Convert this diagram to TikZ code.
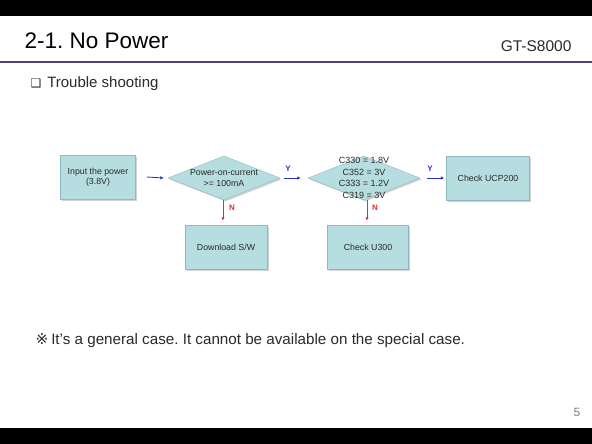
\documentclass[tikz,border=0pt]{standalone}
\usepackage{fontspec}
\setmainfont{Liberation Sans}
\newfontfamily\symfont{DejaVu Sans}
\usetikzlibrary{shapes.geometric,arrows.meta,shadows}
\definecolor{boxfill}{HTML}{B6DDE0}
\definecolor{boxline}{HTML}{8FB9BE}
\definecolor{rulecol}{HTML}{4A4585}
\definecolor{txtgray}{HTML}{2A2A2A}
\definecolor{flowblue}{HTML}{2B2BD0}
\definecolor{flowred}{HTML}{E03030}
\frenchspacing
\tikzset{
  procbox/.style={draw=boxline, line width=0.4pt, fill=boxfill, minimum width=75pt, minimum height=44pt, align=center, font=\fontsize{8.8}{10.5}\selectfont, text=txtgray, drop shadow={shadow xshift=1.5pt, shadow yshift=-1.5pt, opacity=0.35}},
  decbox/.style={diamond, aspect=2.5, draw=boxline, line width=0.4pt, fill=boxfill, inner sep=0pt, drop shadow={shadow xshift=1.5pt, shadow yshift=-1.5pt, opacity=0.35}},
  dectext/.style={align=center, inner sep=0pt, font=\fontsize{8.8}{10.5}\selectfont, text=txtgray},
  yarrow/.style={draw=flowblue, line width=0.8pt, -{Latex[length=3.5pt,width=3.5pt]}},
  narrow/.style={draw=flowred, line width=0.8pt, -{Latex[length=3.5pt,width=3.5pt]}},
  ylab/.style={text=flowblue, font=\fontsize{8}{9}\selectfont\bfseries},
  nlab/.style={text=flowred, font=\fontsize{8}{9}\selectfont\bfseries},
}
\begin{document}
\begin{tikzpicture}[x=1pt,y=-1pt]
\useasboundingbox (0,0) rectangle (592,444);
\fill[white] (0,0) rectangle (592,444);
\fill[black] (0,0) rectangle (592,16);
\fill[black] (0,428) rectangle (592,444);
\draw[rulecol, line width=2pt] (0,62) -- (592,62);
\node[anchor=west, font=\fontsize{22.5}{26}\selectfont, text=black] (title) at (21,41) {2-1. No Power};
\node[anchor=east, font=\fontsize{15.5}{18}\selectfont, text=txtgray] (model) at (575,46) {GT-S8000};
\node[anchor=west, font=\fontsize{15}{18}\selectfont, text=txtgray] (trouble) at (27,84) {{\symfont\fontsize{12}{14}\selectfont ❑}\hspace{6pt}Trouble shooting};

\node[procbox] (input) at (98,177) {Input the power\\(3.8V)};
\node[decbox, minimum width=112pt, minimum height=44pt] (dec1) at (224,178) {};
\node[dectext] (dec1t) at (dec1.center) {Power-on-current\\>= 100mA};
\node[decbox, minimum width=112pt, minimum height=44pt] (dec2) at (364,178) {};
\node[dectext, font=\fontsize{9}{11.7}\selectfont] (dec2t) at (dec2.center) {C330 = 1.8V\\C352 = 3V\\C333 = 1.2V\\C319 = 3V};
\node[procbox, minimum width=83pt] (ucp) at (488,178) {Check UCP200};
\node[procbox, minimum width=82pt] (dl) at (226,247) {Download S/W};
\node[procbox, minimum width=81pt] (u300) at (368,247) {Check U300};

\draw[yarrow] ([xshift=11pt]input.east) -- ([xshift=-4pt]dec1.west);
\draw[yarrow] ([xshift=4pt]dec1.east) -- ([xshift=-7pt]dec2.west);
\node[ylab] (y1) at (288,169) {Y};
\draw[yarrow] ([xshift=7pt]dec2.east) -- ([xshift=-2pt]ucp.west);
\node[ylab] (y2) at (430,169) {Y};

\draw[narrow] ([xshift=-1pt]dec1.south) -- ([xshift=-3pt,yshift=4pt]dl.north);
\node[nlab] (n1) at (232,208) {N};
\draw[narrow] ([xshift=3pt]dec2.south) -- ([xshift=-1pt,yshift=4pt]u300.north);
\node[nlab] (n2) at (375,208) {N};

\node[anchor=west, font=\fontsize{15.2}{18}\selectfont, text=txtgray] (note) at (32,341) {{\symfont ※}\hspace{3pt}It's a general case. It cannot be available on the special case.};
\node[font=\fontsize{12}{14}\selectfont, text=gray] (page) at (577,412) {5};
\end{tikzpicture}
\end{document}
